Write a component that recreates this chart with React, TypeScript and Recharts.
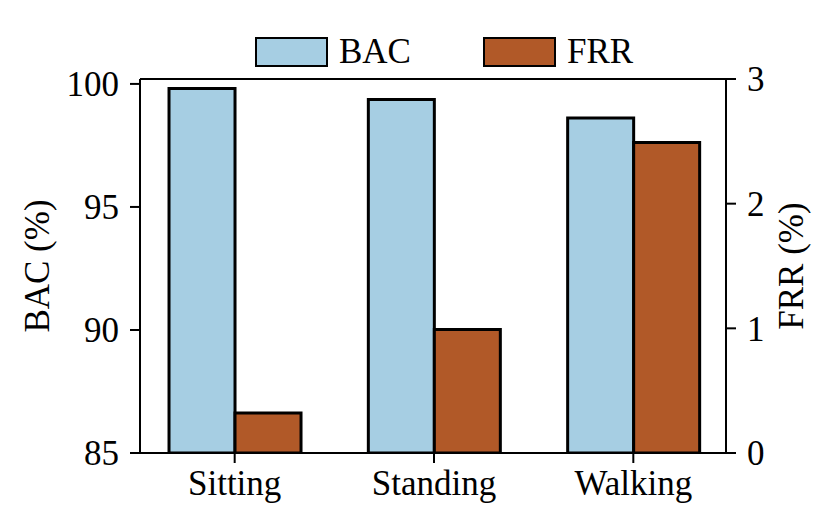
import React from 'react';
import { BarChart, Bar, XAxis, YAxis, Legend, ReferenceLine } from 'recharts';

const categories = ['Sitting', 'Standing', 'Walking'];
const bacValues = [99.81, 99.37, 98.61];
const frrValues = [0.32, 0.99, 2.49];
const bacTicks = [85, 90, 95, 100];
const frrTicks = [0, 1, 2, 3];
const xPositions = [0, 1, 2];

const COLORS: Record<string, string> = { BAC: '#a6cee3', FRR: '#b15928' };
const FONT = 'Liberation Serif, Times New Roman, serif';
const FS = 35;

const data = categories.map((name, i) => ({
  x: xPositions[i],
  name,
  BAC: bacValues[i],
  FRR: frrValues[i],
}));

const tickStyle = { fontFamily: FONT, fontSize: FS, fill: '#000' };
const lineStyle = { stroke: '#000', strokeWidth: 2 };

const LegendContent = (props: any) => {
  const payload = props.payload || [];
  return (
    <div style={{ display: 'flex', alignItems: 'center' }}>
      {payload.map((entry: any, i: number) => (
        <div
          key={i}
          style={{ display: 'flex', alignItems: 'center', marginRight: i === 0 ? 72 : 0 }}
        >
          <div
            style={{
              width: 73,
              height: 30,
              boxSizing: 'border-box',
              border: '2.5px solid #000',
              background: COLORS[entry.dataKey] || entry.color,
            }}
          />
          <span
            style={{
              marginLeft: 11,
              fontFamily: FONT,
              fontSize: FS,
              lineHeight: 1,
              color: '#000',
            }}
          >
            {entry.value}
          </span>
        </div>
      ))}
    </div>
  );
};

const makeAxisLabel = (text: string, side: 'left' | 'right') => (props: any) => {
  const vb = props.viewBox || {};
  const cy = (vb.y ?? 79) + (vb.height ?? 374) / 2;
  const cx = side === 'left' ? (vb.x ?? 0) + 37 : (vb.x ?? 726) + 65;
  return (
    <text
      x={cx}
      y={cy}
      transform={`rotate(-90, ${cx}, ${cy})`}
      textAnchor="middle"
      dominantBaseline="central"
      style={{ fontFamily: FONT, fontSize: FS, fill: '#000' }}
    >
      {text}
    </text>
  );
};

export default function App() {
  return (
    <div style={{ position: 'absolute', left: 0, top: 0, width: 832, height: 529, background: '#fff' }}>
      <BarChart
        width={832}
        height={529}
        data={data}
        margin={{ top: 79, right: 0, bottom: 0, left: 0 }}
        barGap={0}
      >
        <XAxis
          dataKey="x"
          type="number"
          domain={[-0.475, 2.465]}
          allowDataOverflow
          ticks={xPositions}
          tickFormatter={(v: number) => categories[v] ?? ''}
          height={76}
          tick={tickStyle}
          tickSize={10}
          tickMargin={7}
          axisLine={lineStyle}
          tickLine={lineStyle}
          interval={0}
        />
        <YAxis
          yAxisId="left"
          orientation="left"
          width={140}
          domain={[85, 100.2]}
          allowDataOverflow
          ticks={bacTicks}
          tick={tickStyle}
          tickSize={10}
          tickMargin={11}
          axisLine={lineStyle}
          tickLine={lineStyle}
          interval={0}
          label={makeAxisLabel('BAC (%)', 'left')}
        />
        <YAxis
          yAxisId="right"
          orientation="right"
          width={106}
          domain={[0, 3]}
          allowDataOverflow
          ticks={frrTicks}
          tick={tickStyle}
          tickSize={10}
          tickMargin={11}
          axisLine={lineStyle}
          tickLine={lineStyle}
          interval={0}
          label={makeAxisLabel('FRR (%)', 'right')}
        />
        <ReferenceLine yAxisId="left" y={100.2} stroke="#000" strokeWidth={2} />
        <Legend
          verticalAlign="middle"
          align="center"
          layout="horizontal"
          content={<LegendContent />}
          wrapperStyle={{ position: 'absolute', left: 255, top: 34, width: 'auto', height: 30, right: 'auto', bottom: 'auto' }}
        />
        <Bar
          yAxisId="left"
          dataKey="BAC"
          name="BAC"
          fill={COLORS.BAC}
          stroke="#000"
          strokeWidth={3}
          barSize={66}
          isAnimationActive={false}
        />
        <Bar
          yAxisId="right"
          dataKey="FRR"
          name="FRR"
          fill={COLORS.FRR}
          stroke="#000"
          strokeWidth={3}
          barSize={66}
          isAnimationActive={false}
        />
      </BarChart>
    </div>
  );
}
